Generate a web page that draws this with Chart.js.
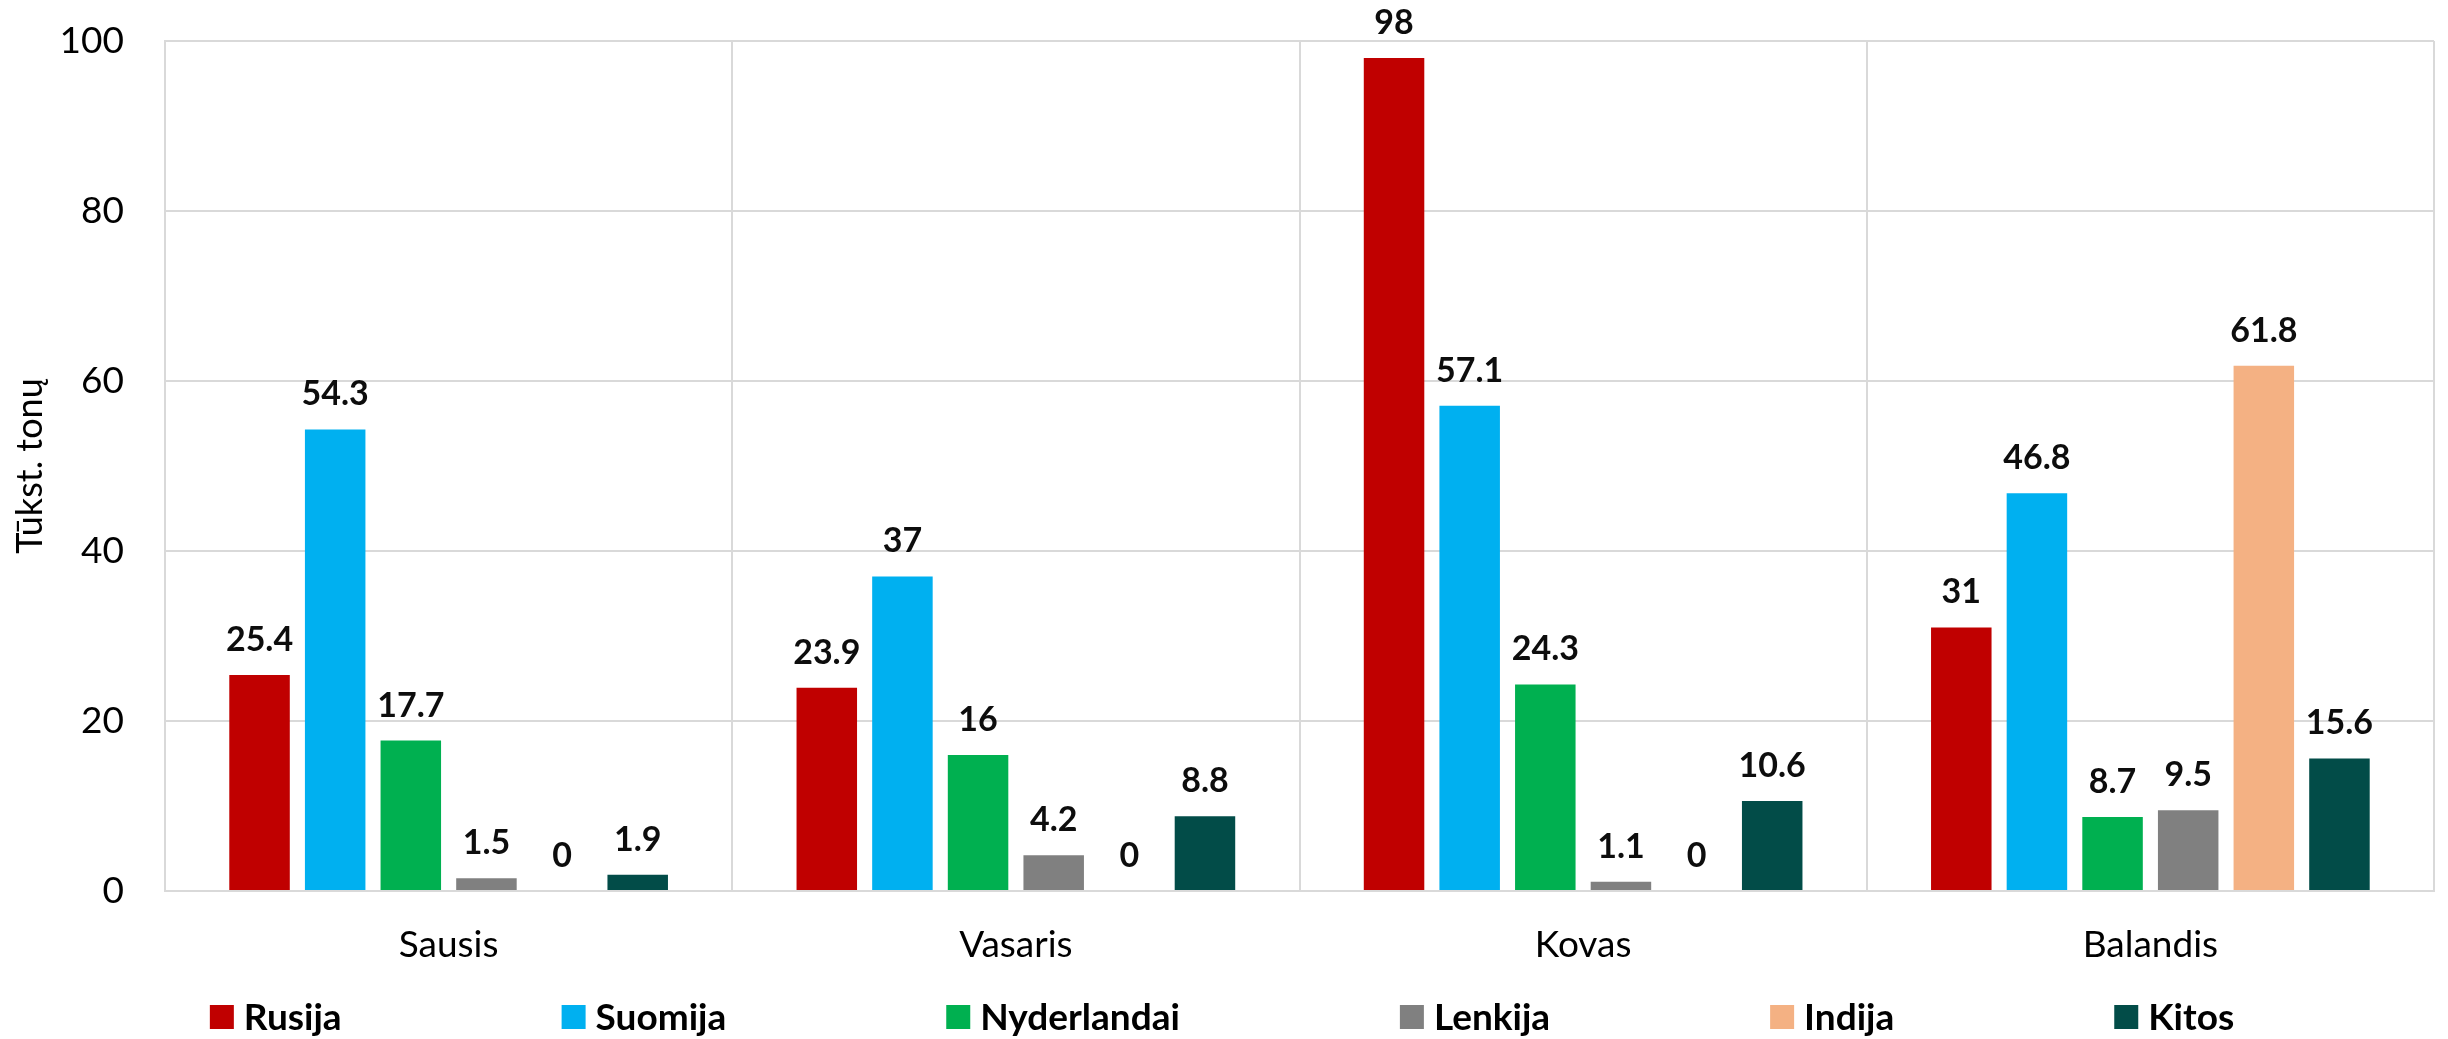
<!DOCTYPE html>
<html>
<head>
<meta charset="utf-8">
<script src="https://cdn.jsdelivr.net/npm/chart.js@4.4.1/dist/chart.umd.min.js"></script>
<style>
  html, body { margin: 0; padding: 0; background: #ffffff; }
  #wrap { width: 2448px; height: 1039px; }
</style>
</head>
<body>
<div id="wrap"><canvas id="c" width="2448" height="1039"></canvas></div>
<script>
// ---- data ----
const categories = ["Sausis", "Vasaris", "Kovas", "Balandis"];
const seriesNames = ["Rusija", "Suomija", "Nyderlandai", "Lenkija", "Indija", "Kitos"];
const rusija      = [25.4, 23.9, 98, 31];
const suomija     = [54.3, 37, 57.1, 46.8];
const nyderlandai = [17.7, 16, 24.3, 8.7];
const lenkija     = [1.5, 4.2, 1.1, 9.5];
const indija      = [0, 0, 0, 61.8];
const kitos       = [1.9, 8.8, 10.6, 15.6];
const yTicks = [0, 20, 40, 60, 80, 100];
const yTitle = "Tūkst. tonų";

const seriesValues = [rusija, suomija, nyderlandai, lenkija, indija, kitos];
const seriesColors = ["#C00000", "#00B0F0", "#00B050", "#808080", "#F4B183", "#024C48"];

const FONT = "Lato, 'Open Sans', 'Noto Sans', sans-serif";

// value labels above bars, positioned from the library's bar elements
const valueLabels = {
  id: "valueLabels",
  afterDatasetsDraw(chart) {
    const ctx = chart.ctx;
    ctx.save();
    ctx.font = "bold 34px " + FONT;
    ctx.fillStyle = "#0D0D0D";
    ctx.textAlign = "center";
    ctx.textBaseline = "middle";
    chart.data.datasets.forEach((ds, di) => {
      const meta = chart.getDatasetMeta(di);
      meta.data.forEach((el, i) => {
        ctx.fillText(String(ds.data[i]), el.x, el.y - 35);
      });
    });
    ctx.restore();
  }
};

// legend row (box + bold text, constant gap), built from dataset labels/colours
const rowLegend = {
  id: "rowLegend",
  afterDraw(chart) {
    const ctx = chart.ctx;
    ctx.save();
    ctx.font = "bold 37px " + FONT;
    ctx.textBaseline = "middle";
    const box = 24, gapText = 10, gapItem = 220;
    const items = chart.data.datasets.map(ds => ({
      label: ds.label, color: ds.backgroundColor, w: ctx.measureText(ds.label).width
    }));
    let total = 0;
    items.forEach((it, i) => { total += box + gapText + it.w + (i < items.length - 1 ? gapItem : 0); });
    let x = (chart.width - total) / 2 - 2;
    const cy = 1017;
    items.forEach(it => {
      ctx.fillStyle = it.color;
      ctx.fillRect(x, cy - box / 2, box, box);
      ctx.fillStyle = "#000000";
      ctx.textAlign = "left";
      ctx.fillText(it.label, x + box + gapText, cy + 1);
      x += box + gapText + it.w + gapItem;
    });
    ctx.restore();
  }
};

const bgPlugin = {
  id: "bg",
  beforeDraw(chart) {
    const ctx = chart.ctx;
    ctx.save();
    ctx.fillStyle = "#ffffff";
    ctx.fillRect(0, 0, chart.width, chart.height);
    ctx.restore();
  }
};

new Chart(document.getElementById("c"), {
  type: "bar",
  data: {
    labels: categories,
    datasets: seriesNames.map((name, i) => ({
      label: name,
      data: seriesValues[i],
      backgroundColor: seriesColors[i],
      borderWidth: 0,
      categoryPercentage: 0.8,
      barPercentage: 0.8
    }))
  },
  options: {
    responsive: false,
    devicePixelRatio: 1,
    animation: false,
    layout: { padding: { left: 0, right: 14, top: 41, bottom: 0 } },
    plugins: {
      legend: { display: false },
      tooltip: { enabled: false },
      title: { display: false }
    },
    scales: {
      x: {
        grid: { display: true, offset: true, color: "#D9D9D9", lineWidth: 2, drawTicks: false },
        border: { display: true, color: "#D9D9D9", width: 2 },
        ticks: { color: "#000000", font: { family: FONT, size: 37 }, padding: 32 },
        afterFit(scale) { scale.height = 148; }
      },
      y: {
        min: 0,
        max: 100,
        afterBuildTicks(scale) { scale.ticks = yTicks.map(v => ({ value: v })); },
        grid: { color: "#D9D9D9", lineWidth: 2, drawTicks: false },
        border: { display: true, color: "#D9D9D9", width: 2 },
        ticks: { color: "#000000", font: { family: FONT, size: 37 }, padding: 41 },
        title: {
          display: true,
          text: yTitle,
          color: "#000000",
          font: { family: FONT, size: 36 },
          padding: { top: 9, bottom: 0 }
        },
        afterFit(scale) {
          scale.width = 165;
          scale.paddingTop = 0;
          scale.paddingBottom = 0;
        }
      }
    }
  },
  plugins: [bgPlugin, valueLabels, rowLegend]
});
</script>
</body>
</html>
